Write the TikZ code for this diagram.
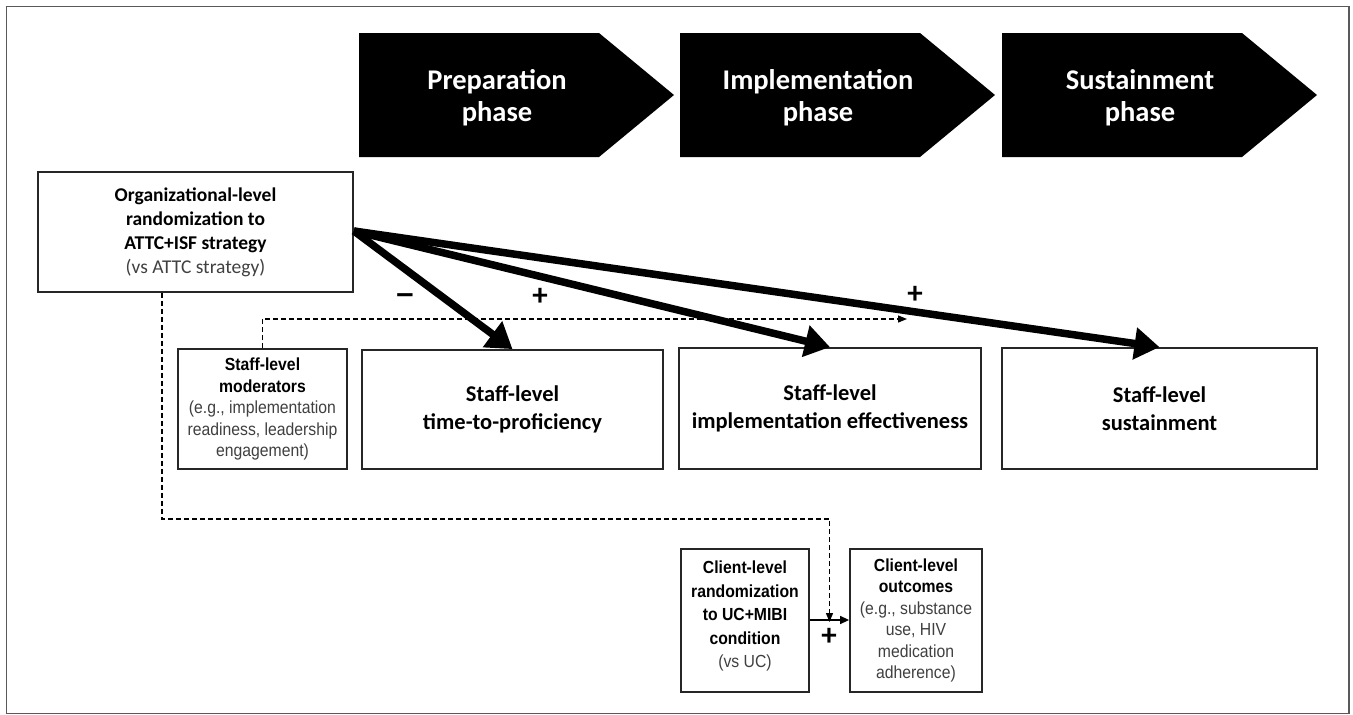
\documentclass[tikz,border=0pt]{standalone}
\usepackage{fontspec}
\setmainfont{Carlito}
\newfontfamily\arialn[FakeStretch=0.9]{Liberation Sans}
\newfontfamily\arialf{Liberation Sans}
\usetikzlibrary{arrows.meta}
\definecolor{soft}{gray}{0.25}
\begin{document}
\begin{tikzpicture}[x=1pt,y=-1pt,
  box/.style={draw=black!85, line width=1.8pt, fill=white, inner sep=0pt, align=center},
  calfont/.style={font=\fontsize{19.5}{24}\selectfont\bfseries},
  bigfont/.style={font=\fontsize{22.5}{27.5}\selectfont\bfseries},
  arfont/.style={font=\arialn\fontsize{17.5}{21.5}\selectfont},
  phasetext/.style={text=white, align=center, font=\fontsize{28.5}{32}\selectfont\bfseries},
  phaseshape/.style={fill=black},
  heavy/.style={line width=7.5pt, -{Triangle[length=25pt,width=31pt]}},
  dashline/.style={line width=1.3pt, dash pattern=on 5pt off 3pt, -{Triangle[length=9pt,width=7pt]}},
  thinarrow/.style={line width=1.5pt, -{Triangle[length=9pt,width=8pt]}},
  sign/.style={font=\fontsize{31}{31}\selectfont\bfseries, inner sep=0pt}
]
\useasboundingbox (0,0) rectangle (1353,715);
\fill[white] (0,0) rectangle (1353,715);
\draw[black!65, line width=1.5pt] (6.5,6.5) rectangle (1349,713.5);

% phase arrows
\fill[phaseshape] (359,33) -- (599,33) -- (674,95) -- (599,157) -- (359,157) -- cycle;
\fill[phaseshape] (680,33) -- (920,33) -- (995,95) -- (920,157) -- (680,157) -- cycle;
\fill[phaseshape] (1002,33) -- (1242,33) -- (1317,95) -- (1242,157) -- (1002,157) -- cycle;
\node[phasetext] (prep) at (497,98) {Preparation\\phase};
\node[phasetext] (impl) at (818,98) {Implementation\\phase};
\node[phasetext] (sust) at (1140,98) {Sustainment\\phase};

% boxes
\node[box, calfont, minimum width=315pt, minimum height=120pt] (org) at (195.5,232)
  {Organizational-level\\randomization to\\ATTC+ISF strategy\\\textcolor{soft}{\mdseries (vs ATTC strategy)}};
\node[box, arfont, minimum width=169pt, minimum height=120pt] (mod) at (262.5,409)
  {\textbf{Staff-level}\\\textbf{moderators}\\\textcolor{soft}{(e.g., implementation}\\\textcolor{soft}{readiness, leadership}\\\textcolor{soft}{engagement)}};
\node[box, bigfont, minimum width=301pt, minimum height=119pt] (time) at (512.5,409.5)
  {Staff-level\\time-to-proficiency};
\node[box, bigfont, minimum width=302pt, minimum height=121pt] (eff) at (830,408.5)
  {Staff-level\\implementation effectiveness};
\node[box, bigfont, minimum width=315pt, minimum height=121pt] (sus) at (1159.5,408.5)
  {Staff-level\\sustainment};
\node[box, font=\arialn\fontsize{17.5}{23.5}\selectfont, text depth=12pt, minimum width=128pt, minimum height=143pt] (crand) at (745,620.5)
  {\textbf{Client-level}\\\textbf{randomization}\\\textbf{to UC+MIBI}\\\textbf{condition}\\\textcolor{soft}{(vs UC)}};
\node[box, arfont, minimum width=132pt, minimum height=143pt] (cout) at (916,620.5)
  {\textbf{Client-level}\\\textbf{outcomes}\\\textcolor{soft}{(e.g., substance}\\\textcolor{soft}{use, HIV}\\\textcolor{soft}{medication}\\\textcolor{soft}{adherence)}};

% client arrow
\draw[thinarrow] (crand.east |- 0,620) -- (cout.west |- 0,620) coordinate[pos=0.5] (cmid);
\node[sign] (plusc) at (829,637) {+};

% dashed connectors
\coordinate (modend) at (907,319);
\draw[dashline] (mod.north) -- (mod.north |- modend) -- (modend);
\coordinate (orgdash) at (org.south -| 162,0);
\draw[dashline] (orgdash) -- (162,519) -- (cmid |- 0,519) -- ([yshift=-2pt]cmid);

% heavy arrows
\coordinate (src) at ([yshift=1pt]org.east);
\draw[heavy] (src) -- (time.north);
\draw[heavy] (src) -- (eff.north);
\draw[heavy] (src) -- (sus.north);

\node[sign, font=\arialf\fontsize{31}{31}\selectfont\bfseries] (minus) at (405,299) {–};
\node[sign] (plus1) at (540,297) {+};
\node[sign] (plus2) at (915,295) {+};
\end{tikzpicture}
\end{document}
